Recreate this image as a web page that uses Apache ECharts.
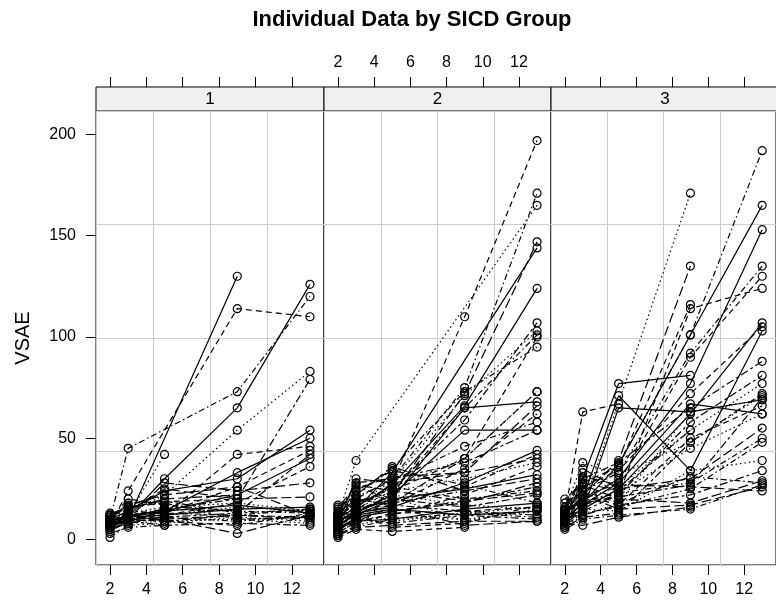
<!DOCTYPE html>
<html>
<head>
<meta charset="utf-8">
<script src="https://cdn.jsdelivr.net/npm/echarts@6/dist/echarts.min.js"></script>
<style>
  html, body { margin: 0; padding: 0; background: #fff; }
  #main { width: 776px; height: 602px; }
</style>
</head>
<body>
<div id="main"></div>
<script>
// ages at which VSAE was measured
const ages = [2, 3, 5, 9, 13];
const xTicks = [2, 4, 6, 8, 10, 12];
const yTicks = [0, 50, 100, 150, 200];
const groups = ['1', '2', '3'];

// one row per child: VSAE at ages 2, 3, 5, 9, 13 (null = not measured)
const sicd1 = [
    [6, 10, null, 130, null],
    [7, 24, null, 114, 110],
    [8, 13, 22, 54, 83],
    [10, 45, null, 73, 120],
    [8, 14, 25, 20, 21],
    [7, 11, 15, 20, 79],
    [9, 11, 30, 65, 126],
    [7, 10, 12, 42, 46],
    [8, 12, 42, null, null],
    [12, 14, 13, 12, 15],
    [5, 9, 10, 3, 12],
    [11, 16, 18, 10, 11],
    [9, 12, 14, 33, 50],
    [9, 12, 13, 26, 44],
    [6, 8, 9, 10, 8],
    [10, 20, 17, 14, null],
    [7, 10, 28, 24, 28],
    [4, 9, 7, 8, 7],
    [8, 11, 14, 22, 40],
    [6, 9, 12, 18, 36],
    [1, 7, 8, 11, 9],
    [8, 10, 11, 9, 12],
    [13, 15, 20, 22, null],
    [5, 8, 11, 13, 15],
    [9, 11, 12, 15, 16],
    [7, 12, 9, 7, 13],
    [11, 13, 16, 18, 14],
    [3, 6, 7, null, null],
    [12, 17, 22, 26, 12],
    [6, 10, 9, 12, 11],
    [8, 9, 14, 17, 13],
    [10, 18, null, 20, null],
    [9, 13, 12, 16, 14],
    [10, 12, 15, 14, 13],
    [7, 11, 10, 12, 10],
    [12, 16, 19, 13, 42],
    [10, 14, 24, 30, 54]
];

const sicd2 = [
    [8, 15, 33, null, 144],
    [6, 14, 28, 110, 197],
    [12, 39, null, null, 165],
    [9, 20, 30, 75, 171],
    [9, 14, 22, 72, 147],
    [11, 18, 25, 59, 107],
    [10, 16, 27, 66, 124],
    [5, 11, 24, 40, 100],
    [8, 17, 29, 71, 103],
    [12, 22, 35, 73, 95],
    [10, 25, 31, 33, 66],
    [6, 10, 18, 40, 73],
    [7, 12, 20, 65, 68],
    [8, 12, 19, 26, 42],
    [11, 15, 24, 30, 38],
    [15, 24, 34, 27, 18],
    [7, 11, 14, 18, 28],
    [12, 28, 30, 38, 54],
    [9, 13, 22, 54, 54],
    [5, 9, 12, 22, 36],
    [7, 16, 26, 40, 73],
    [13, 17, 26, 20, 24],
    [3, 6, 7, 9, 9],
    [4, 11, 14, 19, 26],
    [7, 13, 16, 28, 44],
    [6, 13, 17, 35, 62],
    [8, 12, 9, 13, 16],
    [10, 19, 23, 65, 101],
    [9, 22, 36, 24, 30],
    [13, 20, 17, 14, 12],
    [9, 14, 20, 25, 32],
    [4, 8, 13, 14, 16],
    [11, 14, 21, 9, 15],
    [2, 6, 10, 13, 11],
    [8, 30, 28, 33, 40],
    [16, 26, 20, 16, 22],
    [6, 9, 10, 15, 18],
    [1, 5, 4, 6, null],
    [14, 18, 22, 17, 15],
    [11, 16, 18, 24, null],
    [3, 9, 16, 7, 9],
    [5, 10, 8, 12, 10],
    [10, 12, 15, 12, 14],
    [9, 12, 6, 8, 17],
    [2, 7, 11, 10, 14],
    [17, 21, 29, 46, 58],
    [12, 27, 24, 19, 23]
];

const sicd3 = [
    [10, 18, 37, 101, 165],
    [13, 63, 67, null, null],
    [9, 16, null, 171, null],
    [11, 25, 37, 101, 192],
    [12, 22, 39, 135, null],
    [6, 11, 13, 48, 72],
    [8, 19, 30, 77, 153],
    [10, 21, 28, 90, 130],
    [10, 20, 26, 54, 77],
    [13, 24, 33, 92, 135],
    [9, 35, 25, 30, 55],
    [14, 30, 38, 65, 88],
    [9, 30, 77, 81, null],
    [7, 17, 22, 114, 124],
    [14, 33, 23, 45, 62],
    [13, 19, 23, 28, 50],
    [16, 31, 27, 26, 24],
    [11, 12, 17, 22, 34],
    [14, 20, 71, 34, 103],
    [11, 28, 36, 116, null],
    [10, 15, 14, 34, 39],
    [18, 24, 18, 31, 28],
    [12, 27, 20, 18, 29],
    [8, 14, 22, 58, 81],
    [11, 17, 28, 67, 62],
    [11, 22, 17, 50, 66],
    [15, 38, 32, 48, 71],
    [7, 13, 16, 25, 48],
    [9, 22, 15, 17, 26],
    [20, 28, 24, 54, null],
    [9, 15, 25, 62, 107],
    [12, 26, 34, 72, 105],
    [6, 12, 18, 63, 69],
    [5, 10, 12, 15, 27],
    [8, 7, 11, 16, null],
    [15, 18, 21, 27, 70],
    [12, 14, 65, 63, 69]
];

const panels = [sicd1, sicd2, sicd3];

// lattice style line types: solid, dashed, dotted, dotdash, longdash, twodash
const ltys = ['solid', [6, 4], [1.5, 3], [1.5, 3, 6, 3], [10, 4], [3, 3, 8, 3]];

const xMin = 1.23, xMax = 13.77;
const yMin = -12.6, yMax = 211.6;
const panelLeft = [96, 324, 551];
const panelWidth = [228, 227, 228];
const panelTop = 111, panelHeight = 454;
const stripH = 24;
const labelFont = { fontSize: 16, color: '#000', fontFamily: 'Liberation Sans, Arial, sans-serif' };

const chart = echarts.init(document.getElementById('main'));

const grid = [], xAxis = [], yAxis = [], series = [], graphic = [];

panels.forEach(function (rows, g) {
    grid.push({
        left: panelLeft[g], top: panelTop, width: panelWidth[g], height: panelHeight,
        show: true, borderColor: '#000', borderWidth: 1, backgroundColor: 'transparent'
    });
    // data axis, carries the panel grid lines (quarters)
    xAxis.push({
        type: 'value', gridIndex: g, position: 'bottom', min: xMin, max: xMax,
        interval: (xMax - xMin) / 4,
        axisLine: { show: false, onZero: false }, axisTick: { show: false }, axisLabel: { show: false },
        splitLine: { show: true, lineStyle: { color: '#cccccc', width: 1 } }
    });
    // bottom ticks / labels
    xAxis.push({
        type: 'value', gridIndex: g, position: 'bottom', min: xMin, max: xMax,
        axisLine: { show: false, onZero: false },
        axisTick: { show: true, customValues: xTicks, length: 10, inside: false, lineStyle: { color: '#000' } },
        axisLabel: Object.assign({ show: g !== 1, customValues: xTicks, margin: 17 }, labelFont),
        splitLine: { show: false }
    });
    // top ticks / labels, above the strip
    xAxis.push({
        type: 'value', gridIndex: g, position: 'top', offset: stripH, min: xMin, max: xMax,
        axisLine: { show: false, onZero: false },
        axisTick: { show: true, customValues: xTicks, length: 10, inside: false, lineStyle: { color: '#000' } },
        axisLabel: Object.assign({ show: g === 1, customValues: xTicks, margin: 16 }, labelFont),
        splitLine: { show: false }
    });
    yAxis.push({
        type: 'value', gridIndex: g, position: 'left', min: yMin, max: yMax,
        interval: (yMax - yMin) / 4,
        axisLine: { show: false, onZero: false }, axisTick: { show: false }, axisLabel: { show: false },
        splitLine: { show: true, lineStyle: { color: '#cccccc', width: 1 } }
    });

    rows.forEach(function (row, i) {
        const pts = [];
        ages.forEach(function (a, k) {
            if (row[k] != null) pts.push([a, row[k]]);
        });
        series.push({
            type: 'line',
            xAxisIndex: g * 3,
            yAxisIndex: g,
            data: pts,
            symbol: 'circle',
            symbolSize: 8,
            showSymbol: true,
            itemStyle: { color: 'rgba(0,0,0,0)', borderColor: '#000', borderWidth: 1.2 },
            lineStyle: { color: '#000', width: 1.2, type: ltys[i % ltys.length] },
            emphasis: { disabled: true },
            silent: true,
            z: 3
        });
    });

    // strip with group label
    graphic.push({
        type: 'rect',
        shape: { x: panelLeft[g], y: panelTop - stripH, width: panelWidth[g], height: stripH },
        style: { fill: '#f0f0f0', stroke: '#000', lineWidth: 1 },
        silent: true
    });
    graphic.push({
        type: 'text',
        x: panelLeft[g] + panelWidth[g] / 2,
        y: panelTop - stripH / 2,
        style: {
            text: groups[g], fill: '#000', font: '17px Liberation Sans, Arial, sans-serif',
            align: 'center', verticalAlign: 'middle'
        },
        silent: true
    });
});

// left y axis ticks and labels (panel 1 only)
yAxis.push({
    type: 'value', gridIndex: 0, position: 'left', min: yMin, max: yMax,
    axisLine: { show: false, onZero: false },
    axisTick: { show: true, customValues: yTicks, length: 10, inside: false, lineStyle: { color: '#000' } },
    axisLabel: Object.assign({ show: true, customValues: yTicks, margin: 20 }, labelFont),
    splitLine: { show: false }
});

graphic.push({
    type: 'text', x: 412, y: 20,
    style: {
        text: 'Individual Data by SICD Group', fill: '#000',
        font: 'bold 22px Liberation Sans, Arial, sans-serif',
        align: 'center', verticalAlign: 'middle'
    },
    silent: true
});
graphic.push({
    type: 'text', x: 23, y: 338, rotation: Math.PI / 2,
    style: {
        text: 'VSAE', fill: '#000', font: '20px Liberation Sans, Arial, sans-serif',
        align: 'center', verticalAlign: 'middle'
    },
    silent: true
});

chart.setOption({
    animation: false,
    backgroundColor: '#fff',
    grid: grid,
    xAxis: xAxis,
    yAxis: yAxis,
    series: series,
    graphic: graphic
});
</script>
</body>
</html>
